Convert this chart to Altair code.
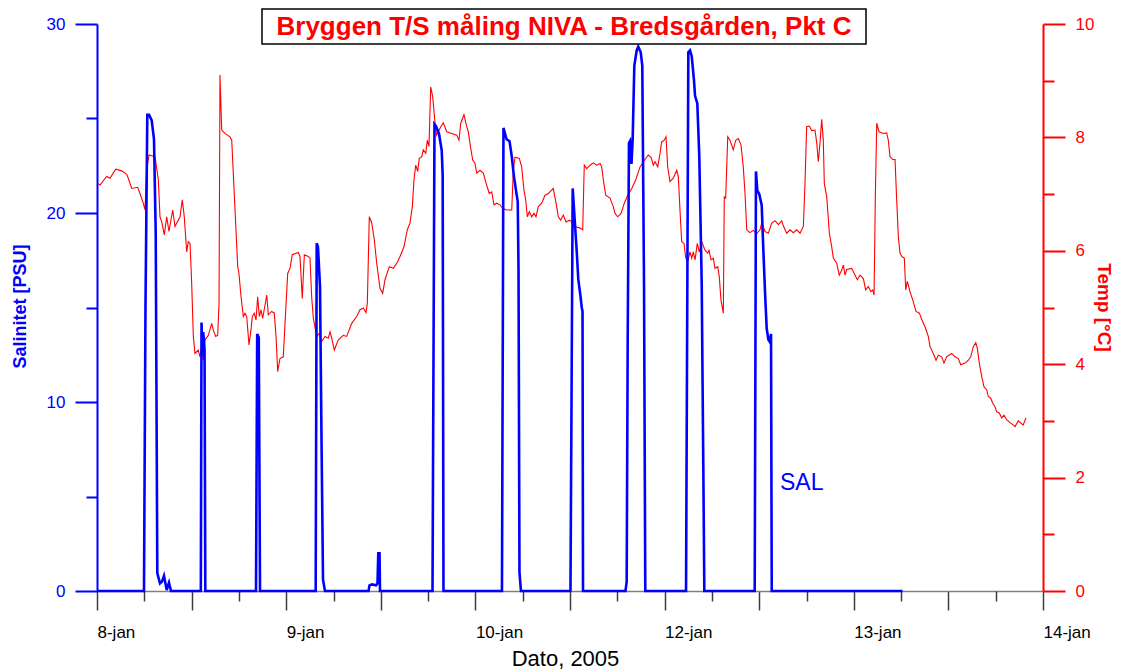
import json
import altair as alt
import pandas as pd

# ---------------- data (time = hours after 8 Jan 2005 00:00) ----------------
temp_hours = [
    0.09, 0.38, 1.23, 1.65, 2.37, 3.13, 3.77, 3.97, 4.40, 5.16,
    5.45, 5.87, 6.09, 6.30, 6.60, 7.36, 7.78, 7.99, 8.21, 8.54,
    8.84, 9.13, 9.60, 9.89, 10.53, 10.82, 11.07, 11.38, 11.58, 11.80,
    12.01, 12.22, 12.43, 12.85, 13.07, 13.28, 13.48, 13.70, 14.12, 14.55,
    14.75, 15.06, 15.31, 15.48, 15.60, 15.82, 16.24, 16.87, 17.09, 17.51,
    17.85, 18.01, 18.27, 18.56, 18.77, 18.99, 19.28, 19.53, 19.70, 19.95,
    20.17, 20.38, 20.59, 20.80, 21.02, 21.31, 21.53, 21.73, 22.16, 22.49,
    22.71, 22.92, 23.21, 23.63, 23.85, 24.19, 24.48, 24.77, 25.54, 25.75,
    26.04, 26.30, 26.80, 27.02, 27.23, 27.44, 27.87, 28.16, 28.50, 28.92,
    29.34, 29.56, 29.77, 30.10, 30.61, 31.24, 31.67, 32.31, 32.94, 33.36,
    33.78, 34.12, 34.29, 34.54, 34.85, 35.18, 35.48, 35.90, 36.24, 36.53,
    37.08, 37.59, 38.02, 38.44, 38.94, 39.36, 39.70, 40.00, 40.21, 40.43,
    40.68, 40.88, 41.19, 41.39, 41.70, 41.90, 42.11, 42.33, 42.58, 42.88,
    43.09, 43.51, 43.93, 44.36, 44.99, 45.63, 45.92, 46.14, 46.55, 46.90,
    47.10, 47.40, 47.66, 47.95, 48.17, 48.58, 49.00, 49.43, 49.76, 50.07,
    50.36, 50.70, 51.12, 51.46, 51.97, 52.61, 52.81, 53.02, 53.57, 53.87,
    54.16, 54.38, 54.58, 54.84, 55.14, 55.43, 55.69, 55.98, 56.41, 56.83,
    57.25, 57.88, 58.23, 58.52, 58.82, 59.15, 59.49, 59.91, 60.22, 60.63,
    61.27, 61.61, 61.81, 62.12, 62.54, 62.96, 63.39, 63.81, 64.02, 64.23,
    64.53, 65.07, 65.49, 65.71, 66.05, 66.47, 66.89, 67.32, 67.83, 68.33,
    68.88, 69.51, 69.93, 70.28, 70.57, 70.78, 71.13, 71.42, 71.63, 71.96,
    72.18, 72.39, 72.68, 73.10, 73.54, 73.74, 73.95, 74.17, 74.46, 74.68,
    74.93, 75.22, 75.44, 75.64, 75.86, 76.15, 76.40, 76.71, 77.13, 77.47,
    77.63, 77.89, 78.18, 78.39, 78.74, 78.94, 79.15, 79.45, 79.57, 79.75,
    80.01, 80.30, 80.71, 81.02, 81.35, 81.69, 81.98, 82.20, 82.42, 82.83,
    83.25, 83.68, 84.10, 84.32, 84.74, 85.16, 85.59, 86.01, 86.43, 86.85,
    87.06, 87.49, 87.91, 88.33, 88.76, 89.18, 89.60, 89.81, 90.02, 90.36,
    90.66, 91.08, 91.30, 91.50, 91.71, 91.93, 92.13, 92.26, 92.57, 92.90,
    93.20, 93.40, 93.83, 94.16, 94.47, 94.67, 94.89, 95.10, 95.74, 96.16,
    96.45, 96.79, 97.21, 97.51, 97.84, 98.15, 98.40, 98.57, 98.73, 98.91,
    99.20, 99.74, 100.17, 100.38, 100.59, 100.94, 101.23, 101.44, 101.65, 101.86,
    102.08, 102.41, 102.59, 102.79, 103.13, 103.55, 103.89, 104.31, 104.74, 105.03,
    105.45, 105.67, 106.09, 106.43, 106.72, 107.15, 107.44, 107.78, 108.42, 108.84,
    109.26, 109.56, 110.11, 110.53, 110.83, 111.16, 111.47, 111.67, 111.92, 112.23,
    112.52, 112.86, 113.06, 113.37, 113.62, 113.91, 114.13, 114.46, 114.76, 115.05,
    115.39, 115.81, 116.23, 116.45, 116.87, 117.29, 117.49, 117.84,
]
temp_values = [
    7.19, 7.16, 7.31, 7.28, 7.44, 7.41, 7.35, 7.28, 7.10, 7.12,
    7.01, 6.84, 6.72, 7.42, 7.69, 7.66, 7.25, 6.60, 6.51, 6.28,
    6.60, 6.34, 6.72, 6.43, 6.60, 6.90, 6.60, 5.98, 6.16, 6.13,
    5.43, 4.49, 4.19, 4.25, 4.13, 4.31, 4.07, 4.43, 4.51, 4.72,
    4.60, 4.49, 4.51, 5.07, 9.10, 8.13, 8.07, 8.01, 7.95, 6.72,
    5.72, 5.60, 5.19, 4.84, 4.90, 4.84, 4.34, 4.60, 4.84, 4.90,
    4.78, 5.19, 4.84, 4.96, 4.81, 5.04, 5.22, 4.87, 4.93, 4.90,
    4.49, 3.87, 4.10, 4.13, 4.72, 5.60, 5.69, 5.93, 5.97, 5.90,
    5.16, 5.93, 5.90, 5.87, 5.19, 4.81, 4.49, 4.54, 4.40, 4.49,
    4.46, 4.57, 4.46, 4.25, 4.43, 4.51, 4.49, 4.72, 4.84, 4.96,
    4.99, 4.91, 5.07, 6.60, 6.49, 6.19, 5.78, 5.34, 5.25, 5.49,
    5.72, 5.69, 5.78, 5.90, 6.07, 6.37, 6.49, 6.78, 7.25, 7.51,
    7.40, 7.63, 7.66, 7.78, 7.72, 7.95, 7.84, 8.89, 8.72, 8.25,
    8.04, 8.16, 8.26, 8.10, 8.07, 8.04, 7.95, 8.25, 8.40, 8.19,
    8.10, 7.81, 7.60, 7.54, 7.37, 7.42, 7.37, 7.16, 7.01, 7.04,
    6.81, 6.84, 6.81, 6.75, 6.72, 6.72, 7.42, 7.65, 7.63, 7.48,
    7.07, 6.90, 6.60, 6.69, 6.60, 6.66, 6.60, 6.78, 6.84, 6.98,
    7.01, 7.10, 6.84, 6.60, 6.54, 6.63, 6.51, 6.54, 6.51, 6.43,
    6.40, 6.37, 7.51, 7.45, 7.51, 7.55, 7.51, 7.54, 7.48, 7.25,
    6.98, 6.93, 6.78, 6.66, 6.60, 6.66, 6.84, 6.98, 7.10, 7.25,
    7.48, 7.61, 7.69, 7.65, 7.51, 7.57, 7.48, 7.72, 7.92, 7.95,
    8.01, 7.48, 7.22, 7.28, 7.42, 7.31, 6.72, 6.16, 6.13, 5.87,
    5.81, 5.98, 5.87, 5.98, 5.84, 6.13, 5.98, 6.16, 6.01, 5.96,
    6.01, 5.84, 5.87, 5.69, 5.72, 5.54, 5.13, 4.90, 6.95, 6.93,
    8.01, 7.95, 7.78, 7.95, 7.98, 7.87, 7.48, 7.01, 6.37, 6.32,
    6.36, 6.30, 6.37, 6.49, 6.34, 6.31, 6.49, 6.53, 6.46, 6.53,
    6.44, 6.31, 6.37, 6.32, 6.37, 6.31, 6.43, 7.19, 8.19, 8.20,
    8.12, 8.13, 7.90, 7.57, 7.90, 8.32, 7.95, 7.19, 6.95, 6.31,
    6.07, 5.87, 5.78, 5.57, 5.66, 5.75, 5.57, 5.67, 5.69, 5.57,
    5.49, 5.57, 5.51, 5.31, 5.37, 5.28, 5.31, 5.22, 6.95, 8.25,
    8.10, 8.07, 8.08, 7.95, 7.66, 7.61, 7.61, 6.90, 6.25, 5.96,
    5.90, 5.87, 5.31, 5.46, 5.28, 5.10, 4.93, 4.90, 4.75, 4.66,
    4.49, 4.31, 4.19, 4.07, 4.16, 4.13, 4.02, 4.13, 4.19, 4.13,
    4.10, 3.99, 4.02, 4.07, 4.13, 4.31, 4.38, 4.28, 4.02, 3.78,
    3.60, 3.55, 3.43, 3.40, 3.31, 3.25, 3.16, 3.14, 3.05, 3.10,
    3.02, 2.97, 2.93, 2.90, 3.00, 2.95, 2.93, 3.05,
]
sal_hours = [
    0.00, 5.96, 6.15, 6.38, 6.60, 6.94, 7.23, 7.45, 7.65, 7.99,
    8.25, 8.50, 8.84, 9.13, 9.39, 13.17, 13.26, 13.36, 13.47, 13.64,
    13.74, 20.17, 20.32, 20.52, 20.68, 27.74, 27.87, 28.03, 28.29, 28.48,
    28.67, 28.92, 34.44, 34.57, 34.88, 35.39, 35.58, 35.68, 35.84, 35.90,
    42.56, 42.81, 43.00, 43.38, 43.73, 43.85, 43.95, 51.37, 51.56, 51.95,
    52.33, 52.61, 52.90, 53.15, 53.37, 53.47, 53.59, 53.78, 60.06, 60.34,
    60.57, 60.85, 61.05, 61.33, 61.49, 61.59, 61.65, 67.04, 67.19, 67.32,
    67.48, 67.61, 67.80, 67.95, 68.16, 68.46, 68.66, 68.97, 69.17, 69.39,
    69.55, 74.72, 75.01, 75.22, 75.44, 75.73, 75.86, 76.15, 76.40, 76.71,
    76.91, 77.04, 83.43, 83.59, 83.76, 84.01, 84.32, 84.52, 84.74, 84.95,
    85.16, 85.31, 85.50, 85.59, 102.18,
]
sal_values = [
    0.0, 0.0, 15.0, 25.2, 25.2, 24.9, 23.9, 18.9, 0.95, 0.4,
    0.5, 0.8, 0.05, 0.44, 0.0, 0.0, 14.2, 12.5, 13.7, 12.8,
    0.0, 0.0, 13.6, 13.4, 0.0, 0.0, 18.4, 18.2, 16.1, 8.0,
    0.6, 0.0, 0.0, 0.3, 0.35, 0.3, 0.4, 2.0, 2.0, 0.0,
    0.0, 24.7, 24.6, 24.2, 23.3, 22.0, 0.0, 0.0, 24.5, 23.9,
    23.8, 23.0, 21.9, 21.2, 20.6, 17.0, 1.0, 0.0, 0.0, 21.3,
    19.8, 18.0, 16.5, 15.6, 15.0, 14.8, 0.0, 0.0, 0.5, 13.3,
    23.7, 23.8, 22.6, 23.9, 27.8, 28.6, 28.8, 28.5, 27.8, 16.2,
    0.0, 0.0, 28.5, 28.6, 28.3, 27.0, 26.2, 25.8, 23.0, 16.2,
    6.6, 0.0, 0.0, 22.2, 21.2, 21.0, 20.4, 18.1, 15.8, 13.9,
    13.3, 13.2, 13.6, 0.0, 0.0,
]
assert len(temp_hours) == len(temp_values)
assert len(sal_hours) == len(sal_values)

x_major_ticks = list(range(0, 121, 12))
x_minor_ticks = list(range(6, 121, 12))
x_day_labels = ["8-jan", "9-jan", "10-jan", "12-jan", "13-jan", "14-jan"]
sal_major_ticks = [0, 10, 20, 30]
sal_minor_ticks = [5, 15, 25]
temp_major_ticks = [0, 2, 4, 6, 8, 10]
temp_minor_ticks = [1, 3, 5, 7, 9]

chart_title = "Bryggen T/S måling NIVA - Bredsgården, Pkt C"
x_title = "Dato, 2005"
sal_title = "Salinitet [PSU]"
temp_title = "Temp [°C]"
series_label = "SAL"

# ---------------- styling ----------------
W, H = 946, 567
FONT = "Liberation Sans"
BLUE = "#0000FF"
RED = "#FF0000"
TICK_GREY = "#3c3c3c"

temp_df = pd.DataFrame({"hour": temp_hours, "temp": temp_values})
sal_df = pd.DataFrame({"hour": sal_hours, "sal": sal_values})

x_scale = alt.Scale(domain=[0, 120], nice=False, zero=False)
sal_scale = alt.Scale(domain=[0, 30], nice=False)
temp_scale = alt.Scale(domain=[0, 10], nice=False)

x_label_expr = ("datum.value % 24 === 0 ? " + json.dumps(x_day_labels)
                + "[datum.value / 24] : ''")

x_major_axis = alt.Axis(
    orient="bottom", values=x_major_ticks, labelExpr=x_label_expr, grid=False,
    domainColor="#808080", domainWidth=1.5, tickColor=TICK_GREY, tickWidth=1.5,
    tickSize=19, labelAlign="left", labelBaseline="top", labelPadding=14,
    labelFont=FONT, labelFontSize=17, labelColor="black", labelOverlap=False,
    labelFlush=False, title=x_title, titleFont=FONT, titleFontSize=22,
    titleFontWeight="normal", titleColor="black", titleX=468, titleY=74,
    titleAlign="center", titleBaseline="alphabetic")
x_minor_axis = alt.Axis(
    orient="bottom", values=x_minor_ticks, labels=False, domain=False, grid=False,
    tickColor=TICK_GREY, tickWidth=1.5, tickSize=10, title=None)

sal_major_axis = alt.Axis(
    orient="left", values=sal_major_ticks, grid=False, domainColor=BLUE,
    domainWidth=2, tickColor=BLUE, tickWidth=2, tickSize=22, labelPadding=10,
    labelFont=FONT, labelFontSize=17, labelColor=BLUE, title=sal_title,
    titleFont=FONT, titleFontSize=18, titleFontWeight="bold", titleColor=BLUE,
    titleX=-77, titleY=282, titleAngle=270, titleAlign="center",
    titleBaseline="middle")
sal_minor_axis = alt.Axis(
    orient="left", values=sal_minor_ticks, labels=False, domain=False, grid=False,
    tickColor=BLUE, tickWidth=2, tickSize=11, title=None)

temp_major_axis = alt.Axis(
    orient="right", values=temp_major_ticks, grid=False, domainColor=RED,
    domainWidth=2, tickColor=RED, tickWidth=2, tickSize=22, labelPadding=10,
    labelFont=FONT, labelFontSize=17, labelColor=RED, title=temp_title,
    titleFont=FONT, titleFontSize=19, titleFontWeight="bold", titleColor=RED,
    titleX=60, titleY=283, titleAngle=90, titleAlign="center",
    titleBaseline="middle")
temp_minor_axis = alt.Axis(
    orient="right", values=temp_minor_ticks, labels=False, domain=False, grid=False,
    tickColor=RED, tickWidth=2, tickSize=11, title=None)

temp_line = alt.Chart(temp_df).mark_line(color=RED, strokeWidth=1.1).encode(
    x=alt.X("hour:Q", scale=x_scale, axis=x_major_axis),
    y=alt.Y("temp:Q", scale=temp_scale, axis=temp_major_axis),
)
temp_ticks = alt.Chart(temp_df).mark_line(color=RED, opacity=0).encode(
    x=alt.X("hour:Q", scale=x_scale, axis=x_minor_axis),
    y=alt.Y("temp:Q", scale=temp_scale, axis=temp_minor_axis),
)
sal_line = alt.Chart(sal_df).mark_line(color=BLUE, strokeWidth=2.6).encode(
    x=alt.X("hour:Q", scale=x_scale, axis=None),
    y=alt.Y("sal:Q", scale=sal_scale, axis=sal_major_axis),
)
sal_ticks = alt.Chart(sal_df).mark_line(color=BLUE, opacity=0).encode(
    x=alt.X("hour:Q", scale=x_scale, axis=None),
    y=alt.Y("sal:Q", scale=sal_scale, axis=sal_minor_axis),
)

title_df = pd.DataFrame({"label": [chart_title]})
title_box = alt.Chart(title_df).mark_rect(
    fill="white", stroke="black", strokeWidth=1.5).encode(
    x=alt.value(165), x2=alt.value(769), y=alt.value(-15), y2=alt.value(20))
title_text = alt.Chart(title_df).mark_text(
    font=FONT, fontSize=26, fontWeight="bold", color=RED,
    align="center", baseline="middle").encode(
    text="label:N", x=alt.value(467), y=alt.value(3))
sal_text = alt.Chart(pd.DataFrame({"label": [series_label]})).mark_text(
    font=FONT, fontSize=23, color=BLUE, align="left", baseline="middle").encode(
    text="label:N", x=alt.value(683), y=alt.value(459))

chart = alt.layer(
    temp_line, temp_ticks, sal_line, sal_ticks, title_box, title_text, sal_text
).resolve_scale(
    y="independent"
).resolve_axis(
    x="independent", y="independent"
).properties(
    width=W, height=H,
    autosize=alt.AutoSizeParams(type="none"),
    padding={"left": 89, "top": 16, "right": 71, "bottom": 78},
).configure(
    font=FONT
).configure_view(
    stroke=None
)

chart.save("out.html", embed_options={"renderer": "svg", "actions": False})
